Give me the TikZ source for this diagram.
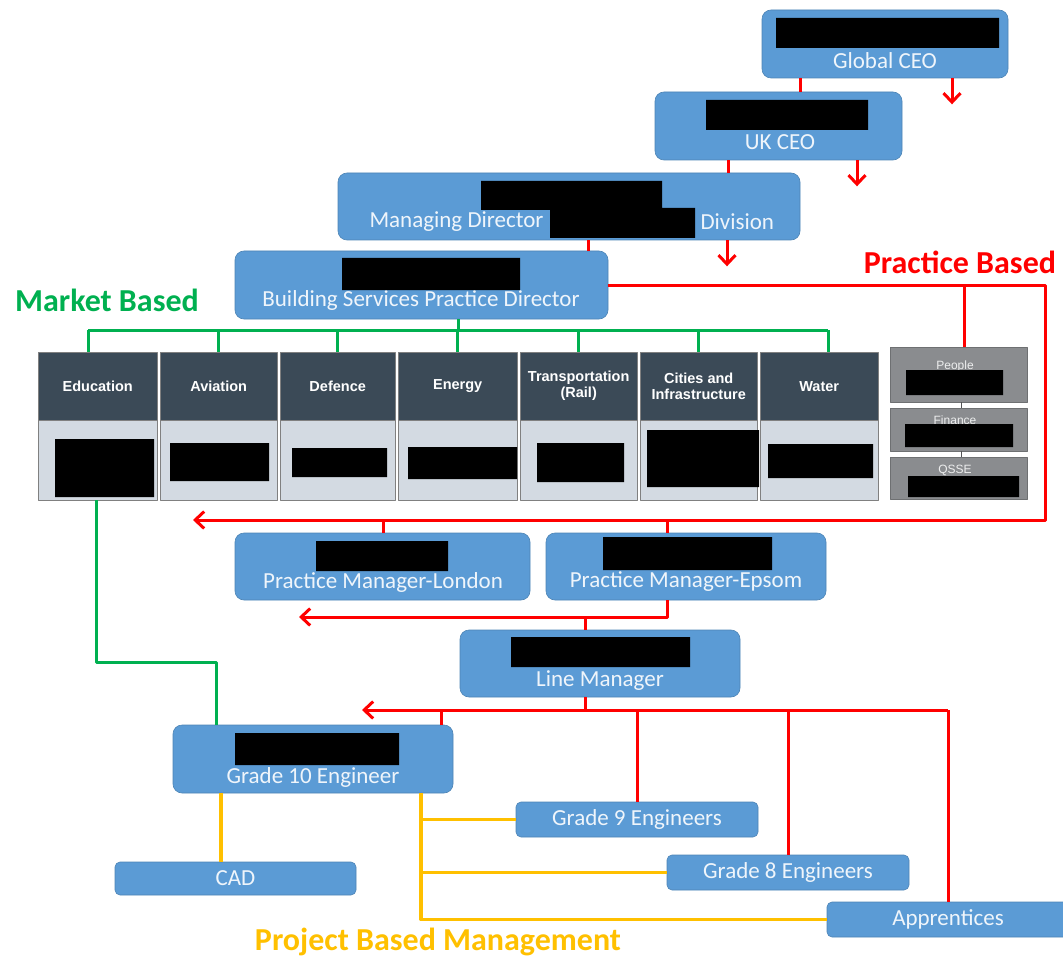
\documentclass[tikz,border=0pt]{standalone}
\usepackage{fontspec}
\setmainfont{Carlito}
\newfontfamily\hdfont{Liberation Sans}
\usetikzlibrary{arrows.meta}
\definecolor{roleblue}{HTML}{5B9BD5}
\definecolor{hdgrey}{HTML}{3B4A57}
\definecolor{bdgrey}{HTML}{D3DAE2}
\definecolor{pgrey}{HTML}{8A8C8F}
\definecolor{mgreen}{HTML}{00B050}
\definecolor{pyellow}{HTML}{FFC000}
\definecolor{pred}{HTML}{FF0000}
\begin{document}
\begin{tikzpicture}[x=1pt,y=-1pt,line join=round,>={Straight Barb[length=9pt,width=17pt]},
	role/.style={draw=roleblue!85!black,line width=0.6pt,fill=roleblue,rounded corners=9pt,inner sep=0pt},
	rtxt/.style={text=white!90!roleblue,font=\fontsize{23}{25}\selectfont},
	hdr/.style={draw=gray,fill=hdgrey,inner sep=0pt,minimum height=68pt,anchor=north west,text=white,align=center,font=\hdfont\bfseries\fontsize{14.5}{16}\selectfont},
	bdy/.style={draw=gray,fill=bdgrey,inner sep=0pt,minimum height=80pt,anchor=north west},
	pbox/.style={draw=pgrey!80!black,fill=pgrey,inner sep=0pt,minimum width=137pt},
	ptxt/.style={text=white!85!pgrey,font=\hdfont\fontsize{12}{13}\selectfont},
	rl/.style={draw=pred,line width=3pt},
	gl/.style={draw=mgreen,line width=3pt},
	yl/.style={draw=pyellow,line width=3.5pt},
	tag/.style={font=\bfseries\fontsize{32}{34}\selectfont}]
	\useasboundingbox (0,0) rectangle (1063,960);
	% chain of command
	\node[role,minimum width=246pt,minimum height=68pt] (gceo) at (885,44) {};
	\node[role,minimum width=247pt,minimum height=68pt] (ukceo) at (778.5,126) {};
	\node[role,minimum width=462pt,minimum height=67pt] (md) at (569,206.5) {};
	\node[role,minimum width=373pt,minimum height=68pt] (bspd) at (421.5,285) {};
	\node[role,minimum width=295pt,minimum height=67pt] (pmlon) at (382.5,566.5) {};
	\node[role,minimum width=280pt,minimum height=67pt] (pmeps) at (686,566.5) {};
	\node[role,minimum width=280pt,minimum height=67pt] (lm) at (600,663.5) {};
	\node[role,minimum width=280pt,minimum height=68pt] (g10) at (313,759) {};
	\node[role,rounded corners=5pt,minimum width=241pt,minimum height=33pt] (cad) at (235.5,878.5) {};
	\node[role,rounded corners=5pt,minimum width=242pt,minimum height=35pt] (g9) at (637,819.5) {};
	\node[role,rounded corners=5pt,minimum width=242pt,minimum height=35pt] (g8) at (788,872.5) {};
	\node[role,rounded corners=5pt,minimum width=242pt,minimum height=35pt] (appr) at (948,919.5) {};
	\node[rtxt] at (885,61) {Global CEO};
	\node[rtxt] at (780,142) {UK CEO};
	\node[rtxt,anchor=east] at (547,222) {Managing Director};
	\node[rtxt,anchor=west] at (697,222) {Division};
	\node[rtxt] at (421,300) {Building Services Practice Director};
	\node[rtxt] at (383,582) {Practice Manager-London};
	\node[rtxt] at (686,582) {Practice Manager-Epsom};
	\node[rtxt] at (600,681) {Line Manager};
	\node[rtxt] at (313,777) {Grade 10 Engineer};
	\node[rtxt] at (cad) {CAD};
	\node[rtxt] at (g9) {Grade 9 Engineers};
	\node[rtxt] at (g8) {Grade 8 Engineers};
	\node[rtxt] at (appr) {Apprentices};
	% market sectors
	\node[hdr,minimum width=119pt] (edu) at (38,352) {Education};
	\node[hdr,minimum width=117pt] (avi) at (160,352) {Aviation};
	\node[hdr,minimum width=115pt] (def) at (280,352) {Defence};
	\node[hdr,minimum width=119pt] (ene) at (398,352) {Energy};
	\node[hdr,minimum width=117pt] (tra) at (520,352) {Transportation\\(Rail)};
	\node[hdr,minimum width=117pt] (cit) at (640,352) {Cities and\\Infrastructure};
	\node[hdr,minimum width=118pt] (wat) at (760,352) {Water};
	\node[bdy,minimum width=119pt] (edub) at (38,420) {};
	\node[bdy,minimum width=117pt] (avib) at (160,420) {};
	\node[bdy,minimum width=115pt] (defb) at (280,420) {};
	\node[bdy,minimum width=119pt] (eneb) at (398,420) {};
	\node[bdy,minimum width=117pt] (trab) at (520,420) {};
	\node[bdy,minimum width=117pt] (citb) at (640,420) {};
	\node[bdy,minimum width=118pt] (watb) at (760,420) {};
	% practice functions
	\node[pbox,minimum height=55pt] (people) at (958.5,374.5) {};
	\node[pbox,minimum height=43pt] (finance) at (958.5,429.5) {};
	\node[pbox,minimum height=42pt] (qsse) at (958.5,478) {};
	\draw[pgrey!60!black] (961,0 |- people.south) -- (961,0 |- finance.north) (961,0 |- finance.south) -- (961,0 |- qsse.north);
	\node[ptxt] at (955,366) {People};
	\node[ptxt] at (955,420) {Finance};
	\node[ptxt] at (955,470) {QSSE};
	% redactions
	\fill[black] (776,18) rectangle (999,48) (706,100) rectangle (868,130) (481,181) rectangle (662,210) (550,208) rectangle (695,238)
		(342,258) rectangle (520,290) (316,541) rectangle (448,571) (603,537) rectangle (772,570) (511,637) rectangle (690,667) (235,733) rectangle (399,765)
		(55,439) rectangle (154,497) (170,443) rectangle (269,481) (292,448) rectangle (387,477) (408,447) rectangle (517,479)
		(537,443) rectangle (624,482) (647,430) rectangle (759,487) (768,444) rectangle (873,478)
		(906,370) rectangle (1003,395) (905,424) rectangle (1013,447) (908,476) rectangle (1019,497);
	% practice based (red)
	\coordinate (pbr) at (1045,520);
	\coordinate (pbl) at (193,520);
	\draw[rl] (800,0 |- gceo.south) -- (800,0 |- ukceo.north);
	\draw[rl] (728,0 |- ukceo.south) -- (728,0 |- md.north);
	\draw[rl] (588,0 |- md.south) -- (588,0 |- bspd.north);
	\draw[rl,->] (952,0 |- gceo.south) -- ++(0,26);
	\draw[rl,->] (857,0 |- ukceo.south) -- ++(0,26);
	\draw[rl,->] (727,0 |- md.south) -- ++(0,26);
	\draw[rl,->] (bspd.east) -- (pbr |- bspd.east) -- (pbr) -- (pbl);
	\draw[rl] (964,0 |- bspd.east) -- (964,0 |- people.north);
	\draw[rl] (383,0 |- pbl) -- (383,0 |- pmlon.north);
	\draw[rl] (667,0 |- pbl) -- (667,0 |- pmeps.north);
	\draw[rl,->] (667,0 |- pmeps.south) -- (667,617) -- (299,617);
	\draw[rl] (585,617) -- (585,0 |- lm.north);
	\draw[rl] (585,0 |- lm.south) -- (585,710);
	\draw[rl,->] (948,710) -- (362,710);
	\draw[rl] (441,710) -- (441,0 |- g10.north);
	\draw[rl] (637,710) -- (g9.north);
	\draw[rl] (788,710) -- (g8.north);
	\draw[rl] (948,710) -- (appr.north);
	% market based (green)
	\draw[gl] (458,0 |- bspd.south) -- (458,330) (88,330) -- (828,330);
	\draw[gl] (88,330) -- (88,0 |- edu.north) (avi.north) -- (avi.north |- 0,330) (def.north) -- (def.north |- 0,330)
		(ene.north) -- (ene.north |- 0,330) (tra.north) -- (tra.north |- 0,330) (cit.north) -- (cit.north |- 0,330) (828,330) -- (828,0 |- wat.north);
	\draw[gl] (96,0 |- edub.south) -- (96,662) -- (216,662) -- (216,0 |- g10.north);
	% project based (yellow)
	\draw[yl] (221,0 |- g10.south) -- (221,0 |- cad.north);
	\draw[yl] (421,0 |- g10.south) -- (421,0 |- appr.west) -- (appr.west);
	\draw[yl] (421,0 |- g9.west) -- (g9.west) (421,0 |- g8.west) -- (g8.west);
	% headings
	\node[tag,text=mgreen] at (107,300) {Market Based};
	\node[tag,text=pred] at (960,262) {Practice Based};
	\node[tag,text=pyellow] at (438,942) {Project Based Management};
\end{tikzpicture}
\end{document}
